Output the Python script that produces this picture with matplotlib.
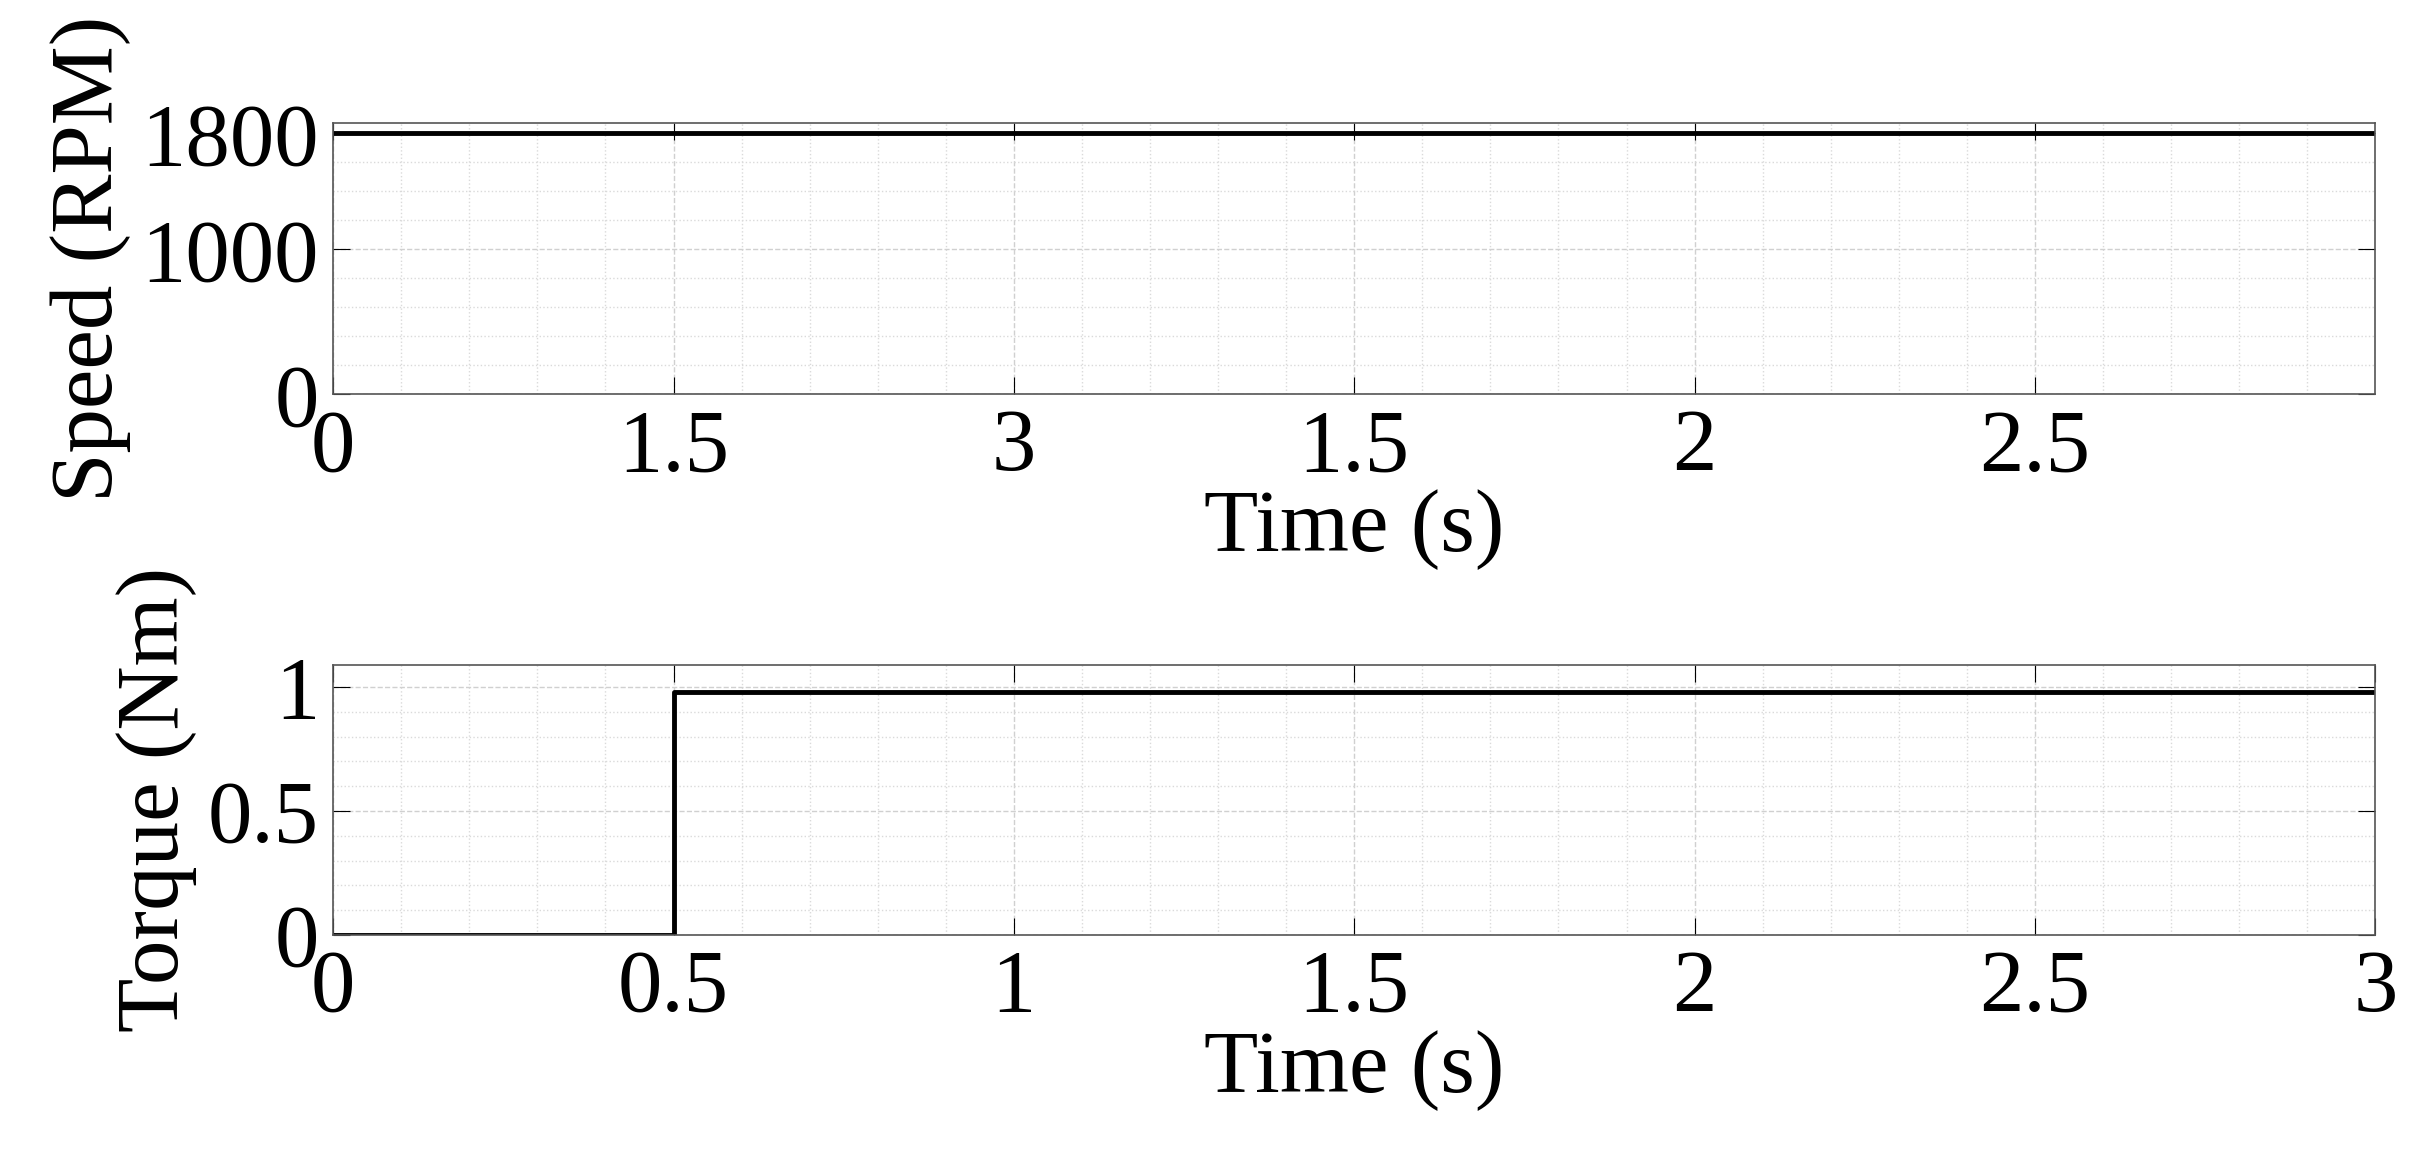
import matplotlib.pyplot as plt
import numpy as np
from matplotlib.ticker import MultipleLocator

plt.rcParams['font.family'] = ['Liberation Serif', 'DejaVu Serif']
plt.rcParams['font.size'] = 64

# Speed trace (constant) and torque step
speed_t = [0, 3]
speed_rpm = [1800, 1800]
torque_t = [0, 0.5, 0.5, 3]
torque_nm = [0, 0, 0.98, 0.98]

top_xticks = [0, 0.5, 1, 1.5, 2, 2.5]
top_xlabels = ['0', '1.5', '3', '1.5', '2', '2.5']
top_yticks = [0, 1000, 1800]
bot_xticks = [0, 0.5, 1, 1.5, 2, 2.5, 3]
bot_xlabels = ['0', '0.5', '1', '1.5', '2', '2.5', '3']
bot_yticks = [0, 0.5, 1]
bot_ylabels = ['0', '0.5', '1']

fig = plt.figure(figsize=(24.14, 11.6), dpi=100)
ax1 = fig.add_axes([0.138, 0.660, 0.846, 0.234])
ax2 = fig.add_axes([0.138, 0.194, 0.846, 0.233])


def style(ax, xminor, yminor):
    ax.xaxis.set_minor_locator(MultipleLocator(xminor))
    ax.yaxis.set_minor_locator(MultipleLocator(yminor))
    ax.grid(True, which='major', color='#d0d0d0', linestyle='--', linewidth=1)
    ax.grid(True, which='minor', color='#dadada', linestyle=':', linewidth=1)
    ax.tick_params(which='both', direction='in', top=True, right=True, pad=10)
    ax.tick_params(which='major', length=12)
    ax.tick_params(which='minor', length=0)
    for s in ax.spines.values():
        s.set_color('#555555')
        s.set_linewidth(1.2)
    ax.set_axisbelow(True)


ax1.plot(speed_t, speed_rpm, color='black', linewidth=3.5)
ax1.set_xlim(0, 3)
ax1.set_ylim(0, 1870)
ax1.set_xticks(top_xticks)
ax1.set_xticklabels(top_xlabels)
ax1.set_yticks(top_yticks)
style(ax1, 0.1, 200)
ax1.set_xlabel('Time (s)', labelpad=0)
ax1.set_ylabel('Speed (RPM)', labelpad=8)

ax2.plot(torque_t, torque_nm, color='black', linewidth=3.5)
ax2.set_xlim(0, 3)
ax2.set_ylim(0, 1.09)
ax2.set_xticks(bot_xticks)
ax2.set_xticklabels(bot_xlabels)
ax2.set_yticks(bot_yticks)
ax2.set_yticklabels(bot_ylabels)
style(ax2, 0.1, 0.1)
ax2.set_xlabel('Time (s)', labelpad=0)
ax2.set_ylabel('Torque (Nm)', labelpad=8)

fig.savefig('out.png', dpi=100)
